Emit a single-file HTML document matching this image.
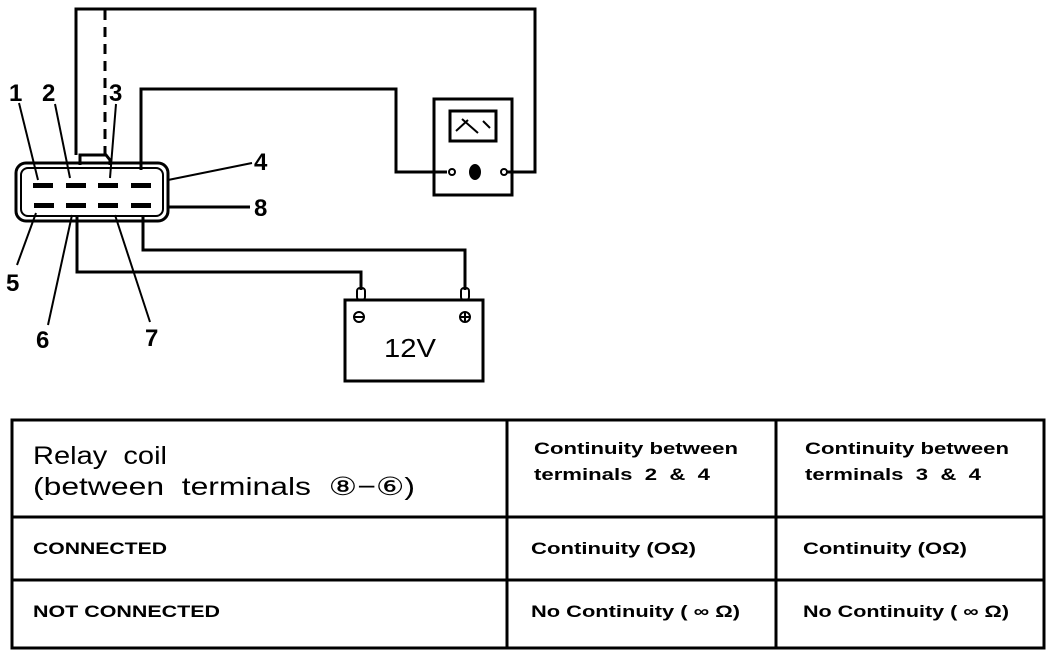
<!DOCTYPE html>
<html><head><style>
html,body{margin:0;padding:0;background:#fff;}
svg{display:block;}
text{font-family:"Liberation Sans",sans-serif;fill:#000;white-space:pre;}
</style></head><body>
<svg width="1056" height="654" viewBox="0 0 1056 654" xmlns="http://www.w3.org/2000/svg" xml:space="preserve">
<g fill="none" stroke="#000" stroke-width="3">
<polyline points="76,155 76,9 535,9 535,172 506,172"/>
<line x1="105" y1="10" x2="105" y2="155" stroke-dasharray="10,7"/>
<polyline points="141,170 141,89 396,89 396,172 447,172"/>
<polyline points="143,215 143,250 465,250 465,290"/>
<polyline points="77,215 77,272 361,272 361,290"/>
<rect x="16" y="163" width="152" height="58" rx="10"/>
<rect x="21" y="168" width="142" height="48" rx="7" stroke-width="2"/>
<polyline points="80,165 80,155 106,155 110,160 110,165" stroke-width="3"/>
<line x1="19" y1="103" x2="38" y2="180" stroke-width="2"/>
<line x1="55" y1="104" x2="70" y2="178" stroke-width="2"/>
<line x1="116" y1="104" x2="110" y2="178" stroke-width="2"/>
<line x1="252" y1="163" x2="168" y2="180" stroke-width="2"/>
<line x1="168" y1="207" x2="250" y2="207" stroke-width="3"/>
<line x1="36" y1="213" x2="17" y2="265" stroke-width="2"/>
<line x1="72" y1="215" x2="48" y2="325" stroke-width="2"/>
<line x1="115" y1="215" x2="150" y2="322" stroke-width="2"/>
<rect x="434" y="99" width="78" height="96" stroke-width="3"/>
<rect x="450" y="111" width="46" height="30" stroke-width="3"/>
<path d="M456 131 L468 120 M462 119 L478 133 M483 121 L490 128" stroke-width="2"/>
<circle cx="452" cy="172" r="3" stroke-width="2"/>
<circle cx="504" cy="172" r="3" stroke-width="2"/>
<rect x="345" y="300" width="138" height="81" stroke-width="3"/>
<rect x="357" y="288" width="8" height="12" rx="3" stroke-width="2"/>
<rect x="461" y="288" width="8" height="12" rx="3" stroke-width="2"/>
<circle cx="359" cy="317" r="5" stroke-width="2"/>
<circle cx="465" cy="317" r="5" stroke-width="2"/>
<line x1="355" y1="317" x2="363" y2="317" stroke-width="2"/>
<line x1="461" y1="317" x2="469" y2="317" stroke-width="2"/>
<line x1="465" y1="313" x2="465" y2="321" stroke-width="2"/>
<rect x="12" y="420" width="1032" height="228" stroke-width="3"/>
<line x1="12" y1="517" x2="1044" y2="517"/>
<line x1="12" y1="580" x2="1044" y2="580"/>
<line x1="507" y1="420" x2="507" y2="648"/>
<line x1="776" y1="420" x2="776" y2="648"/>
</g>
<g fill="#000">
<rect x="33" y="183" width="20" height="5"/><rect x="66" y="183" width="20" height="5"/><rect x="98" y="183" width="20" height="5"/><rect x="131" y="183" width="20" height="5"/>
<rect x="34" y="203" width="20" height="5"/><rect x="66" y="203" width="20" height="5"/><rect x="98" y="203" width="20" height="5"/><rect x="131" y="203" width="20" height="5"/>
<ellipse cx="475" cy="172" rx="6" ry="8"/>
</g>
<g font-weight="bold" font-size="24">
<text x="9" y="101">1</text><text x="42" y="101">2</text><text x="109" y="101">3</text>
<text x="254" y="170">4</text><text x="254" y="216">8</text>
<text x="6" y="291">5</text><text x="36" y="348">6</text><text x="145" y="346">7</text>
</g>
<text x="384" y="357" font-size="26" textLength="52" lengthAdjust="spacingAndGlyphs">12V</text>
<text x="33" y="464" font-size="25" textLength="134" lengthAdjust="spacingAndGlyphs">Relay  coil</text>
<text x="33" y="495" font-size="25" textLength="382" lengthAdjust="spacingAndGlyphs">(between  terminals  ⑧−⑥)</text>
<g font-weight="bold" font-size="17">
<text x="534" y="454" textLength="204" lengthAdjust="spacingAndGlyphs">Continuity between</text>
<text x="534" y="480" textLength="176" lengthAdjust="spacingAndGlyphs">terminals  2  &amp;  4</text>
<text x="805" y="454" textLength="204" lengthAdjust="spacingAndGlyphs">Continuity between</text>
<text x="805" y="480" textLength="176" lengthAdjust="spacingAndGlyphs">terminals  3  &amp;  4</text>
<text x="33" y="554" textLength="134" lengthAdjust="spacingAndGlyphs">CONNECTED</text>
<text x="33" y="617" textLength="187" lengthAdjust="spacingAndGlyphs">NOT CONNECTED</text>
<text x="531" y="554" textLength="165" lengthAdjust="spacingAndGlyphs">Continuity (OΩ)</text>
<text x="803" y="554" textLength="164" lengthAdjust="spacingAndGlyphs">Continuity (OΩ)</text>
<text x="531" y="617" textLength="209" lengthAdjust="spacingAndGlyphs">No Continuity ( ∞ Ω)</text>
<text x="803" y="617" textLength="206" lengthAdjust="spacingAndGlyphs">No Continuity ( ∞ Ω)</text>
</g>
</svg>
</body></html>
